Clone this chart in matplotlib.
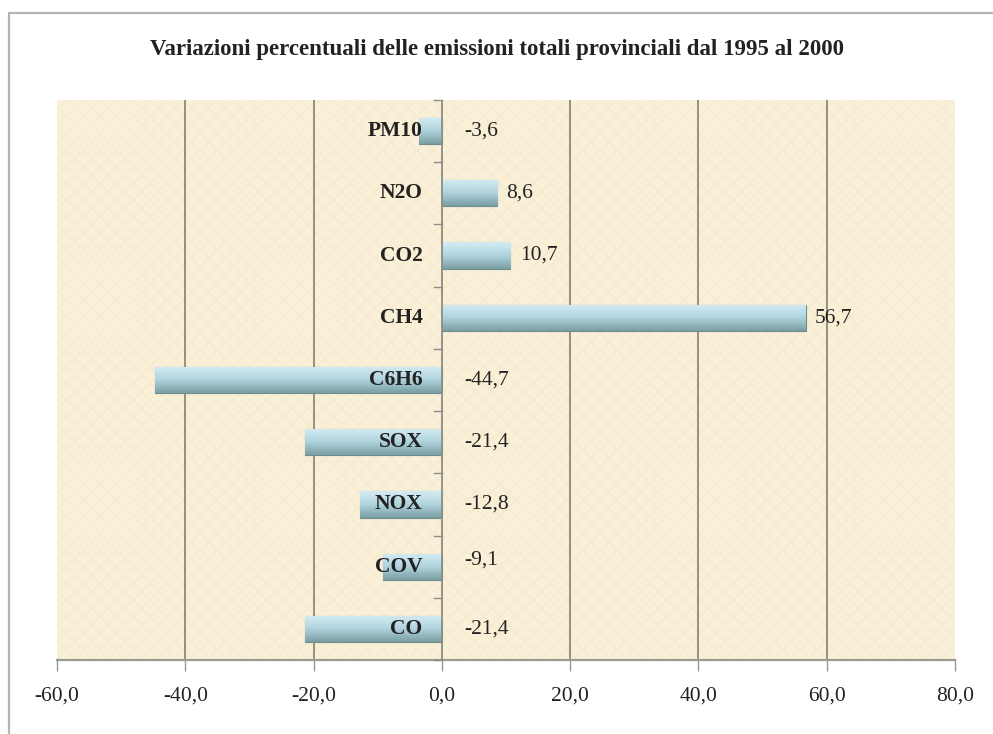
import numpy as np
import matplotlib
matplotlib.use("Agg")
import matplotlib.pyplot as plt
from matplotlib.patches import Rectangle
from matplotlib.lines import Line2D
from matplotlib.colors import LinearSegmentedColormap

categories = ["CO", "COV", "NOX", "SOX", "C6H6", "CH4", "CO2", "N2O", "PM10"]
values = [-21.4, -9.1, -12.8, -21.4, -44.7, 56.7, 10.7, 8.6, -3.6]
xticks = [-60, -40, -20, 0, 20, 40, 60, 80]
title = "Variazioni percentuali delle emissioni totali provinciali dal 1995 al 2000"

plt.rcParams['font.family'] = ['Liberation Serif', 'DejaVu Serif']

fig = plt.figure(figsize=(9.93, 7.34), dpi=100)
ax = fig.add_axes([0.0574, 0.1008, 0.9043, 0.763])

# outer chart frame (only top and left edges are visible)
fig.lines.append(Line2D([0.0095, 0.0095, 1.0], [0.0, 0.9823, 0.9823], transform=fig.transFigure,
                        color="#b4b4b4", lw=1.6))

ax.set_facecolor("#f9f0d7")
ax.add_patch(Rectangle((0, 0), 1, 1, transform=ax.transAxes, facecolor="none",
                       edgecolor="#f5ebcf", hatch="xx", lw=0, zorder=0))

y = np.arange(len(categories))
bh = 0.42
bars = ax.barh(y, values, height=bh, color="#a9cdd6", edgecolor="#6f8b8e",
               lw=0.8, zorder=3)

# vertical gradient on each bar
cmap = LinearSegmentedColormap.from_list("bar", ["#d4ecf3", "#b0d4de", "#7b9ea3"])
grad = np.linspace(0, 1, 64).reshape(-1, 1)
for b in bars:
    x0, y0 = b.get_x(), b.get_y()
    w, h = b.get_width(), b.get_height()
    im = ax.imshow(grad, cmap=cmap, aspect="auto", origin="upper",
                   extent=(x0, x0 + w, y0, y0 + h), zorder=3)
    im.set_clip_path(b)

ax.set_xlim(-60, 80)
ax.set_ylim(-0.5, len(categories) - 0.5)

# category labels next to zero axis
for yi, c in zip(y, categories):
    ax.text(-3, yi, c, ha="right", va="center", fontsize=15.5,
            fontweight="bold", color="#222222", zorder=5)

# value labels
for yi, v in zip(y, values):
    txt = f"{v:.1f}".replace(".", ",")
    dy = 0.11 if v == -9.1 else 0
    if v < 0:
        ax.text(3.5, yi + dy, txt, ha="left", va="center", fontsize=15.5, color="#222222", zorder=5)
    else:
        ax.text(v + 1.5, yi, txt, ha="left", va="center", fontsize=15.5, color="#222222", zorder=5)

# gridlines
for g in xticks[1:-1]:
    if g != 0:
        ax.axvline(g, color="#77776c", lw=1.1, zorder=1)
ax.axvline(0, color="#8c8c86", lw=1.3, zorder=4)
for yb in np.arange(len(categories) + 1) - 0.5:
    ax.plot([-1.2, 0], [yb, yb], color="#8c8c86", lw=1.0, zorder=4, clip_on=False)

for s in ["top", "right", "left"]:
    ax.spines[s].set_visible(False)
ax.spines["bottom"].set_color("#9a9a94")
ax.spines["bottom"].set_linewidth(1.6)

ax.set_yticks([])
ax.set_xticks(xticks)
ax.set_xticklabels([f"{t:.1f}".replace(".", ",") for t in xticks], fontsize=15.5)
ax.tick_params(axis="x", direction="out", length=8, width=1, color="#9a9a94",
               pad=11, labelcolor="#222222")

fig.text(0.5, 0.933, title, ha="center", va="center", fontsize=16.5,
         fontweight="bold", color="#222222")

fig.savefig("out.png", dpi=100, facecolor="white")
